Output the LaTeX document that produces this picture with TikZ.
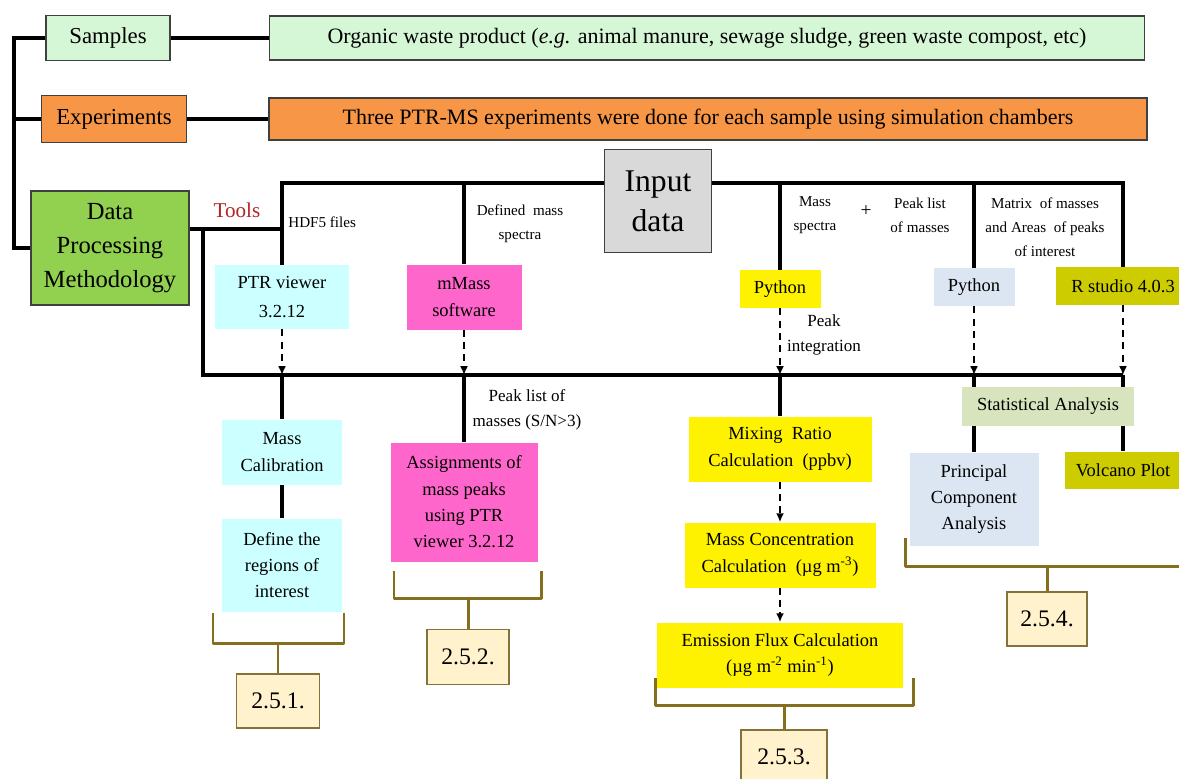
\documentclass[tikz,border=0pt]{standalone}
\usepackage{fontspec}
\setmainfont{Liberation Serif}
\usetikzlibrary{positioning,arrows.meta,backgrounds}
\definecolor{mint}{RGB}{214,247,214}
\definecolor{orng}{RGB}{247,150,70}
\definecolor{leaf}{RGB}{146,208,80}
\definecolor{cyanbox}{RGB}{204,255,255}
\definecolor{boxpink}{RGB}{255,102,204}
\definecolor{steel}{RGB}{220,230,242}
\definecolor{olivebox}{RGB}{204,204,0}
\definecolor{sage}{RGB}{215,228,189}
\definecolor{bracecol}{RGB}{133,110,30}
\definecolor{cream}{RGB}{255,242,204}
\definecolor{toolred}{RGB}{176,36,36}
\definecolor{greybox}{RGB}{217,217,217}
\definecolor{boxline}{RGB}{64,64,64}
\tikzset{main box/.style={draw=boxline,line width=0.7pt,inner sep=0pt,align=center},
  tool box/.style={inner sep=0pt,align=center,font=\fontsize{10.5}{15}\selectfont},
  num box/.style={draw=bracecol!70!gray,fill=cream,line width=0.8pt,inner sep=0pt,font=\fontsize{13.5}{16}\selectfont},
  box size/.style 2 args={minimum width=#1*0.02cm,minimum height=#2*0.02cm},
  label text/.style={align=center,inner sep=0pt,font=\fontsize{8.6}{13.6}\selectfont},
  low label/.style={align=center,inner sep=0pt,font=\fontsize{9.7}{14}\selectfont},
  link/.style={line width=1.8pt},
  dash link/.style={line width=1pt,dash pattern=on 4pt off 3pt,-{Latex[length=5pt,width=4.5pt]}},
  brace line/.style={color=bracecol,line width=1.7pt,line join=round},
}

\begin{document}
\begin{tikzpicture}[x=0.02cm,y=-0.02cm]
	\useasboundingbox (0,0) rectangle (1179,778);
	\node[main box,fill=mint,box size={124}{45},font=\fontsize{13}{15}\selectfont] (samples) at (108,38) {Samples};
	\node[main box,fill=mint,box size={875}{44},font=\fontsize{12.5}{15}\selectfont] (organic) at (707,38) {Organic waste product (\textit{e.g.} animal manure, sewage sludge, green waste compost, etc)};
	\node[main box,fill=orng,box size={145}{47},font=\fontsize{13}{15}\selectfont] (exper) at (114,119) {Experiments};
	\node[main box,fill=orng,box size={878}{42},font=\fontsize{12.5}{15}\selectfont] (chamber) at (708,119) {Three PTR-MS experiments were done for each sample using simulation chambers};
	\node[main box,fill=leaf,box size={158}{114},font=\fontsize{14}{19.3}\selectfont] (dpm) at (110,248) {Data\\Processing\\Methodology};
	\node[text=toolred,inner sep=0pt,font=\fontsize{12}{14}\selectfont] (tools) at (237,210) {Tools};
	\node[main box,fill=greybox,box size={107}{103},font=\fontsize{18}{23}\selectfont] (input) at (658,201) {Input\\data};
	
	\node[tool box,fill=cyanbox,box size={134}{64},font=\fontsize{10.5}{16}\selectfont] (ptr) at (282,297) {PTR viewer\\3.2.12};
	\node[tool box,fill=boxpink,box size={115}{65}] (mmass) at (464,297) {mMass\\software};
	\node[tool box,fill=yellow,box size={81}{38}] (pyint) at (780,289) {Python};
	\node[tool box,fill=steel,box size={81}{38}] (pystat) at (974,287) {Python};
	\node[tool box,fill=olivebox,box size={134}{38}] (rstudio) at (1123,286) {R studio 4.0.3};
	
	\node[label text,anchor=west] (hdf) at (288,222) {HDF5 files};
	\node[label text] (defined) at (520,224) {Defined\enspace mass\\spectra};
	\node[label text] (spectra) at (815,215) {Mass\\spectra};
	\node[inner sep=0pt,font=\fontsize{11}{13}\selectfont] (plus) at (866,211) {+};
	\node[label text] (peaklist) at (920,215) {Peak list\\of masses};
	\node[label text] (matrix) at (1045,227) {Matrix\enspace of masses\\and Areas\enspace of peaks\\of interest};
	\node[low label] (integ) at (824,335) {Peak\\integration};
	\node[low label] (snr) at (527,410) {Peak list of\\masses (S/N>3)};
	
	\node[tool box,fill=cyanbox,box size={120}{65}] (masscal) at (282,452) {Mass\\Calibration};
	\node[tool box,fill=cyanbox,box size={120}{93}] (roi) at (282,565) {Define the\\regions of\\interest};
	\node[tool box,fill=boxpink,box size={147}{119}] (assign) at (464,502) {Assignments of\\mass peaks\\using PTR\\viewer 3.2.12};
	\node[tool box,fill=yellow,box size={183}{65}] (mixing) at (780,449) {Mixing\enspace Ratio\\Calculation\enspace (ppbv)};
	\node[tool box,fill=yellow,box size={191}{65}] (conc) at (780,555) {Mass Concentration\\Calculation\enspace (µg m\textsuperscript{-3})};
	\node[tool box,fill=yellow,box size={246}{65}] (flux) at (780,655) {Emission Flux Calculation\\(µg m\textsuperscript{-2} min\textsuperscript{-1})};
	\node[tool box,fill=sage,box size={172}{39}] (stat) at (1048,406) {Statistical Analysis};
	\node[tool box,fill=steel,box size={129}{93}] (pca) at (974,499) {Principal\\Component\\Analysis};
	\node[tool box,fill=olivebox,box size={116}{37}] (volcano) at (1123,470) {Volcano Plot};
	
	\node[num box,box size={83}{54}] (s251) at (278,701) {2.5.1.};
	\node[num box,box size={82}{55}] (s252) at (468,657) {2.5.2.};
	\node[num box,box size={86}{54}] (s253) at (784,757) {2.5.3.};
	\node[num box,box size={80}{54}] (s254) at (1047,619) {2.5.4.};
	
	\coordinate (rail) at (14,248);
	\coordinate (top) at (1123,183);
	\coordinate (split) at (282,229);
	\coordinate (drop) at (203,229);
	\coordinate (busL) at (203,375);
	\coordinate (busR) at (1123,375);
	\coordinate (b1l) at (213,613);
	\coordinate (b1) at (278,643);
	\coordinate (b1r) at (344,613);
	\coordinate (b2l) at (394,571);
	\coordinate (b2) at (468,598);
	\coordinate (b2r) at (541,571);
	\coordinate (b3l) at (655,678);
	\coordinate (b3) at (784,705);
	\coordinate (b3r) at (913,678);
	\coordinate (b4l) at (905,538);
	\coordinate (b4) at (1047,566);
	\coordinate (b4r) at (1189,538);
	
	\begin{scope}[on background layer]
	\draw[link] (samples.west) -| (rail) -- (dpm.west);
	\draw[link] (exper.west) -- (exper.west -| rail);
	\draw[link] (dpm.east |- split) -- (split);
	\draw[link] (drop) -- (busL) -- (busR);
	\draw[link] (ptr.north) |- (top) -- (rstudio.north);
	\path[link]
	(samples) edge (organic)
	(exper) edge (chamber)
	(mmass) edge (mmass |- top)
	(pyint) edge (pyint |- top)
	(pystat) edge (pystat |- top)
	(busL -| masscal) edge (masscal)
	(masscal) edge (roi)
	(busL -| assign) edge (assign)
	(busL -| mixing) edge (mixing)
	(busL -| pca) edge (pca)
	(busL -| volcano) edge (volcano);
	\end{scope}
	
	\path
	(ptr) edge[dash link] (ptr |- busL)
	(mmass) edge[dash link] (mmass |- busL)
	(pyint) edge[dash link] (pyint |- busL)
	(pystat) edge[dash link] (pystat |- busL)
	(rstudio) edge[dash link] (rstudio |- busL)
	(mixing) edge[dash link] (conc)
	(conc) edge[dash link] (flux);
	
	\draw[brace line] (b1l) |- (b1) -| (b1r) (b1) -- (s251);
	\draw[brace line] (b2l) |- (b2) -| (b2r) (b2) -- (s252);
	\draw[brace line] (b3l) |- (b3) -| (b3r) (b3) -- (s253);
	\draw[brace line] (b4l) |- (b4) -| (b4r) (b4) -- (s254);
\end{tikzpicture}
\end{document}
